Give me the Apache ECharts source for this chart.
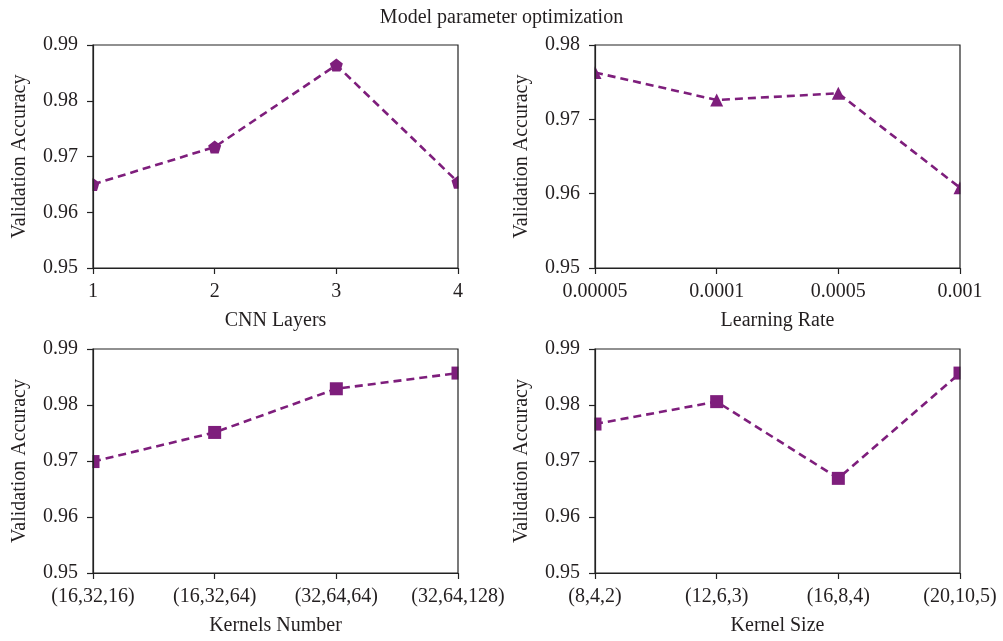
<!DOCTYPE html>
<html>
<head>
<meta charset="utf-8">
<script src="https://cdn.jsdelivr.net/npm/echarts@6/dist/echarts.min.js"></script>
<style>
html,body{margin:0;padding:0;background:#fff;}
#c{width:1003px;height:641px;}
</style>
</head>
<body>
<div id="c"></div>
<script>
const chartTitle = 'Model parameter optimization';
const yName = 'Validation Accuracy';

const layersCats = ['1', '2', '3', '4'];
const layersAcc = [0.9650, 0.9717, 0.9864, 0.9654];

const lrCats = ['0.00005', '0.0001', '0.0005', '0.001'];
const lrAcc = [0.9763, 0.9726, 0.9735, 0.9608];

const kernNumCats = ['(16,32,16)', '(16,32,64)', '(32,64,64)', '(32,64,128)'];
const kernNumAcc = [0.9699, 0.9751, 0.9829, 0.9857];

const kernSizeCats = ['(8,4,2)', '(12,6,3)', '(16,8,4)', '(20,10,5)'];
const kernSizeAcc = [0.9766, 0.9806, 0.9669, 0.9857];

const xNames = ['CNN Layers', 'Learning Rate', 'Kernels Number', 'Kernel Size'];
const yMaxs = [0.99, 0.98, 0.99, 0.99];

const panels = [
  {cats: layersCats, vals: layersAcc, symbol: 'path://M0,-1 L0.951,-0.309 L0.588,0.809 L-0.588,0.809 L-0.951,-0.309 Z', size: 13},
  {cats: lrCats, vals: lrAcc, symbol: 'triangle', size: 13},
  {cats: kernNumCats, vals: kernNumAcc, symbol: 'rect', size: 13},
  {cats: kernSizeCats, vals: kernSizeAcc, symbol: 'rect', size: 13}
];

const grids = [
  {left: 93, top: 45, width: 365, height: 223},
  {left: 595, top: 45, width: 365, height: 223},
  {left: 93, top: 349, width: 365, height: 224},
  {left: 595, top: 349, width: 365, height: 224}
];

const FONT = '"Liberation Serif", "DejaVu Serif", serif';
const TXT = '#231f20';
const PURPLE = '#7e1e7c';

const option = {
  backgroundColor: '#fff',
  animation: false,
  title: {
    text: chartTitle, left: 'center', top: 3,
    textStyle: {fontFamily: FONT, fontSize: 20, fontWeight: 'normal', color: TXT}
  },
  grid: grids.map(g => Object.assign({show: true, borderColor: '#222', borderWidth: 1.2, backgroundColor: 'transparent', z: 10}, g)),
  xAxis: panels.map((p, i) => ({
    type: 'category', gridIndex: i, data: p.cats, boundaryGap: false, z: 10,
    name: xNames[i], nameLocation: 'middle', nameGap: 43,
    nameTextStyle: {fontFamily: FONT, fontSize: 20, color: TXT},
    axisLine: {show: true, lineStyle: {color: '#222', width: 1.2}},
    axisTick: {show: true, inside: false, length: 6, alignWithLabel: true, lineStyle: {color: '#222', width: 1.2}},
    axisLabel: {fontFamily: FONT, fontSize: 20, color: TXT, margin: 14, showMinLabel: true, showMaxLabel: true, interval: 0},
    splitLine: {show: false}
  })),
  yAxis: panels.map((p, i) => ({
    type: 'value', gridIndex: i, min: 0.95, max: yMaxs[i], interval: 0.01, z: 10,
    name: yName, nameLocation: 'middle', nameGap: 63, nameRotate: 90,
    nameTextStyle: {fontFamily: FONT, fontSize: 20, color: TXT},
    axisLine: {show: true, lineStyle: {color: '#222', width: 1.2}},
    axisTick: {show: true, inside: false, length: 6, lineStyle: {color: '#222', width: 1.2}},
    axisLabel: {fontFamily: FONT, fontSize: 20, color: TXT, margin: 15, formatter: v => v.toFixed(2)},
    splitLine: {show: false}
  })),
  graphic: grids.flatMap(g => [
    {type: 'rect', z: 5, silent: true, shape: {x: g.left - 12, y: g.top - 2, width: 11.5, height: g.height + 4}, style: {fill: '#fff'}},
    {type: 'rect', z: 5, silent: true, shape: {x: g.left + g.width + 0.5, y: g.top - 2, width: 12, height: g.height + 4}, style: {fill: '#fff'}}
  ]),
  series: panels.map((p, i) => ({
    type: 'line', xAxisIndex: i, yAxisIndex: i, data: p.vals, z: 2,
    symbol: p.symbol, symbolSize: p.size, showAllSymbol: true, clip: false,
    lineStyle: {color: PURPLE, width: 2.6, type: [8, 5]},
    itemStyle: {color: PURPLE}
  }))
};

const chart = echarts.init(document.getElementById('c'), null, {renderer: 'canvas'});
chart.setOption(option);
</script>
</body>
</html>
